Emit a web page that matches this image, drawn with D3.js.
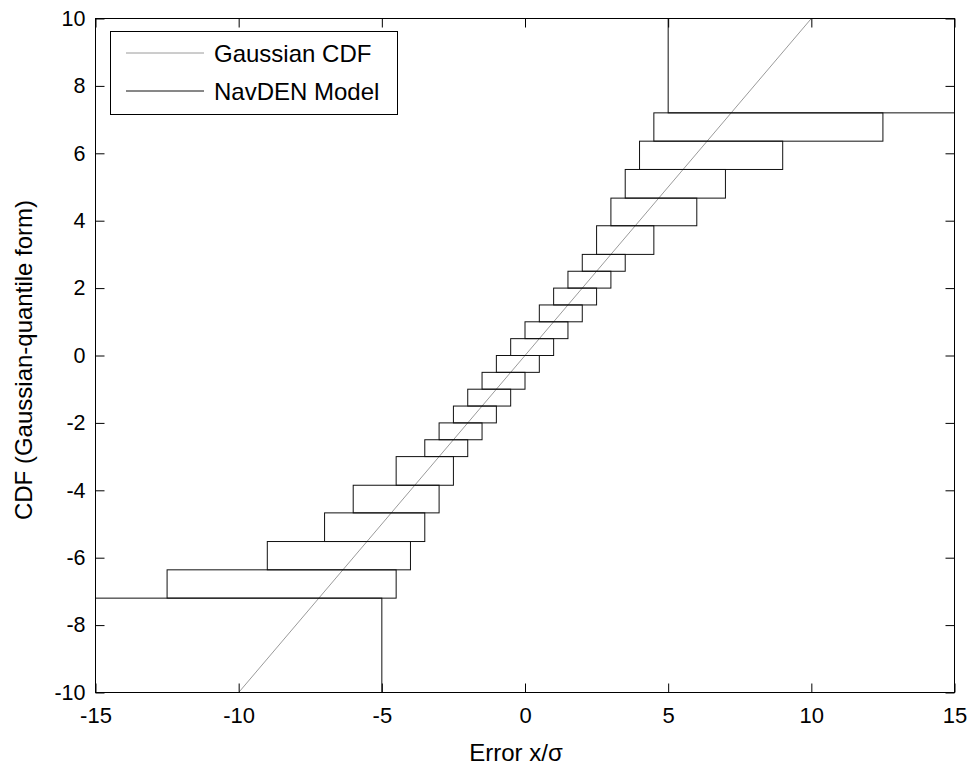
<!DOCTYPE html>
<html>
<head>
<meta charset="utf-8">
<script src="https://cdn.jsdelivr.net/npm/d3@7"></script>
<style>
  html, body { margin: 0; padding: 0; background: #fff; }
  svg { display: block; font-family: "Liberation Sans", Arial, sans-serif; }
</style>
</head>
<body>
<svg id="chart" width="972" height="767"></svg>
<script>
// ---- data ----
const xTicks = [-15, -10, -5, 0, 5, 10, 15];
const yTicks = [-10, -8, -6, -4, -2, 0, 2, 4, 6, 8, 10];
// Gaussian CDF (quantile form) endpoints
const gaussX = [-10, 10];
const gaussY = [-10, 10];
// NavDEN model: quantile levels (interval boundaries)
const levels = [-10, -7.2, -6.36, -5.52, -4.67, -3.85, -3.0, -2.5, -2.0, -1.5, -1.0, -0.5,
                0, 0.5, 1.0, 1.5, 2.0, 2.5, 3.0, 3.85, 4.67, 5.52, 6.36, 7.2, 10];
// left (lower) bound of error for each interval
const leftX  = [-15, -12.5, -9, -7, -6, -4.5, -3.5, -3, -2.5, -2, -1.5, -1,
                -0.5, 0, 0.5, 1, 1.5, 2, 2.5, 3, 3.5, 4, 4.5, 5];
// right (upper) bound of error for each interval
const rightX = [-5, -4.5, -4, -3.5, -3, -2.5, -2, -1.5, -1, -0.5, 0, 0.5,
                1, 1.5, 2, 2.5, 3, 3.5, 4.5, 6, 7, 9, 12.5, 15];
const legendLabels = ["Gaussian CDF", "NavDEN Model"];

// ---- layout ----
const svg = d3.select("#chart");
const L = 95.5, R = 954.5, T = 18.5, B = 692.5;
const x = d3.scaleLinear().domain([-15, 15]).range([L, R]);
const y = d3.scaleLinear().domain([-10, 10]).range([B, T]);
const fmt = d => String(d);

svg.append("defs").append("clipPath").attr("id", "clip")
  .append("rect").attr("x", L).attr("y", T).attr("width", R - L).attr("height", B - T);

const plot = svg.append("g").attr("clip-path", "url(#clip)");

// Gaussian CDF line
plot.append("path")
  .datum(gaussX.map((v, i) => [v, gaussY[i]]))
  .attr("d", d3.line().x(d => x(d[0])).y(d => y(d[1])))
  .attr("fill", "none").attr("stroke", "#9a9a9a").attr("stroke-width", 1);

// NavDEN model boxes
const boxes = leftX.map((lx, i) => ({ x0: lx, x1: rightX[i], y0: levels[i], y1: levels[i + 1] }));
plot.selectAll("rect.box").data(boxes).enter().append("rect")
  .attr("class", "box")
  .attr("x", d => x(d.x0)).attr("y", d => y(d.y1))
  .attr("width", d => x(d.x1) - x(d.x0)).attr("height", d => y(d.y0) - y(d.y1))
  .attr("fill", "none").attr("stroke", "#111").attr("stroke-width", 1);

// ---- axes ----
const tickLen = 9;
svg.append("rect").attr("x", L).attr("y", T).attr("width", R - L).attr("height", B - T)
  .attr("fill", "none").attr("stroke", "#000").attr("stroke-width", 1);

const xAxisB = d3.axisBottom(x).tickValues(xTicks).tickFormat(fmt).tickSizeInner(-tickLen).tickSizeOuter(0);
const xAxisT = d3.axisTop(x).tickValues(xTicks).tickSizeInner(-tickLen).tickSizeOuter(0).tickFormat("");
const yAxisL = d3.axisLeft(y).tickValues(yTicks).tickFormat(fmt).tickSizeInner(-tickLen).tickSizeOuter(0);
const yAxisR = d3.axisRight(y).tickValues(yTicks).tickSizeInner(-tickLen).tickSizeOuter(0).tickFormat("");

function styleAxis(g, fs) {
  g.select(".domain").remove();
  g.selectAll(".tick line").attr("stroke", "#000");
  g.selectAll(".tick text").attr("fill", "#000").style("font-size", fs + "px")
    .style("font-family", '"Liberation Sans", Arial, sans-serif');
}
svg.append("g").attr("transform", `translate(0,${B})`).call(xAxisB).call(g => styleAxis(g, 22))
  .selectAll(".tick text").attr("dy", "0.71em").attr("y", 15);
svg.append("g").attr("transform", `translate(0,${T})`).call(xAxisT).call(g => styleAxis(g, 22));
svg.append("g").attr("transform", `translate(${L},0)`).call(yAxisL).call(g => styleAxis(g, 21.5))
  .selectAll(".tick text").attr("x", -10);
svg.append("g").attr("transform", `translate(${R},0)`).call(yAxisR).call(g => styleAxis(g, 21.5));

// axis labels
svg.append("text").attr("x", 516).attr("y", 761).attr("text-anchor", "middle")
  .style("font-size", "24px").attr("fill", "#000").text("Error x/σ");
svg.append("text").attr("transform", "translate(32,360) rotate(-90)").attr("text-anchor", "middle")
  .style("font-size", "24px").attr("fill", "#000").text("CDF (Gaussian-quantile form)");

// ---- legend ----
const leg = svg.append("g");
leg.append("rect").attr("x", 110.5).attr("y", 31.5).attr("width", 287).attr("height", 83)
  .attr("fill", "#fff").attr("stroke", "#000").attr("stroke-width", 1);
const legColors = ["#9a9a9a", "#111"];
const legY = [53, 91];
legendLabels.forEach((lab, i) => {
  leg.append("line").attr("x1", 126).attr("x2", 204).attr("y1", legY[i]).attr("y2", legY[i])
    .attr("stroke", legColors[i]).attr("stroke-width", 1);
  leg.append("text").attr("x", 214).attr("y", legY[i] + 9).style("font-size", "24px")
    .attr("fill", "#000").text(lab);
});
</script>
</body>
</html>
